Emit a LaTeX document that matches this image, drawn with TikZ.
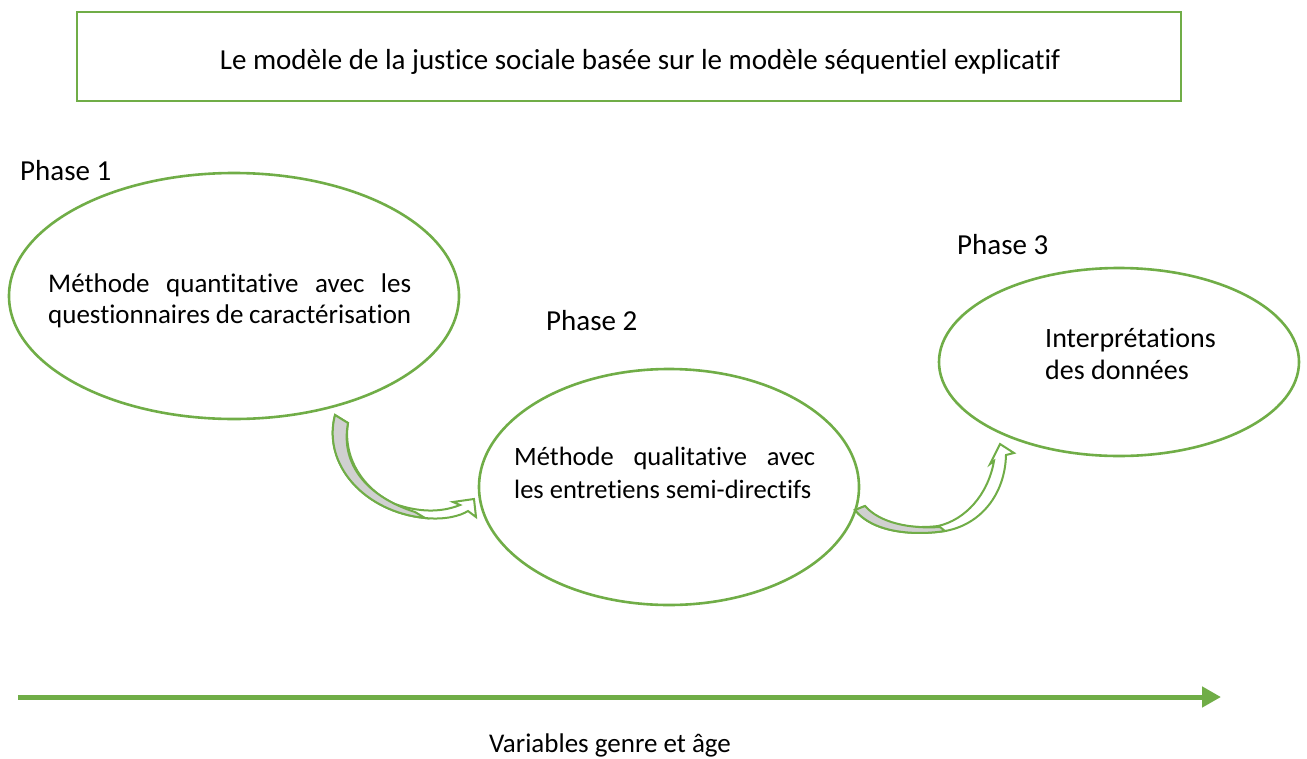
\documentclass[tikz,border=0pt]{standalone}
\usepackage{fontspec}
\setmainfont{Carlito}[Ligatures={NoCommon}]
\usetikzlibrary{shapes.geometric,arrows.meta}
\definecolor{grn}{HTML}{70AD47}
\definecolor{gry}{HTML}{D0D0D0}
\tikzset{
  phase/.style={ellipse,draw=grn,line width=2.6pt,inner sep=0pt},
  lbl/.style={anchor=base west,inner sep=0pt,font=\fontsize{29}{35}\selectfont},
  cent/.style={anchor=base,inner sep=0pt,font=\fontsize{29}{35}\selectfont},
  carrow/.style={draw=grn,line width=2pt,line join=miter},
}
\begin{document}
\begin{tikzpicture}[x=1pt,y=-1pt]
\useasboundingbox (0,0) rectangle (1307,758);
% title box
\node[draw=grn,line width=2.6pt,minimum width=1104pt,minimum height=89pt,inner sep=0pt] (titlebox) at (629,56.5) {};
\node[cent] (title) at (640,69) {Le modèle de la justice sociale basée sur le modèle séquentiel explicatif};
% phase labels
\node[lbl] (p1) at (20,180) {Phase 1};
\node[lbl] (p2) at (546,330) {Phase 2};
\node[lbl] (p3) at (957,254) {Phase 3};
% ellipses
\node[phase,minimum width=450pt,minimum height=246pt] (e1) at (234,296) {};
\node[phase,minimum width=380pt,minimum height=236pt] (e2) at (669,487) {};
\node[phase,minimum width=360pt,minimum height=188pt] (e3) at (1119,362) {};
% texts
\node[lbl,font=\fontsize{27}{33}\selectfont] (t1a) at (48,292) {\hbox to 363pt{Méthode\hfill quantitative\hfill avec\hfill les}};
\node[lbl,font=\fontsize{27}{33}\selectfont] (t1b) at (48,323) {\hbox to 363pt{questionnaires\hfill de\hfill caractérisation}};
\node[lbl,font=\fontsize{26.5}{33}\selectfont] (t2a) at (514,465) {\hbox to 301pt{Méthode\hfill qualitative\hfill avec}};
\node[lbl,font=\fontsize{26.5}{33}\selectfont] (t2b) at (514,498) {les entretiens semi-directifs};
\node[lbl,font=\fontsize{28}{33}\selectfont] (t3a) at (1045,347) {Interprétations};
\node[lbl,font=\fontsize{28}{33}\selectfont] (t3b) at (1045,379) {des données};
% curved arrow 1
\draw[carrow,fill=white] (335,415) .. controls (322,465) and (365,512) .. (425,518)
  .. controls (445,520) and (460,516) .. (468,511)
  -- (476,517) -- (474,499) -- (453,502) -- (460,505)
  .. controls (440,513) and (418,512) .. (395,504)
  .. controls (368,492) and (342,462) .. (348,423) -- cycle;
\draw[carrow,fill=gry] (335,415) -- (348,423) .. controls (340,465) and (368,497) .. (415,512)
  -- (425,518) .. controls (365,512) and (322,465) .. (335,415) -- cycle;
% curved arrow 2
\draw[carrow,fill=white] (855,510) .. controls (875,535) and (920,535) .. (945,531)
  .. controls (980,525) and (1005,495) .. (1006,455)
  -- (1014,453) -- (1000,444) -- (990,464) -- (994,461)
  .. controls (988,495) and (965,520) .. (938,526)
  .. controls (905,530) and (878,522) .. (865,506) -- cycle;
\draw[carrow,fill=gry] (855,510) -- (865,506) .. controls (880,523) and (910,529) .. (940,527)
  -- (945,531) .. controls (920,535) and (875,535) .. (855,510) -- cycle;
% bottom axis
\coordinate (axs) at (18,697);
\coordinate (axe) at (1221,697);
\draw[grn,line width=5pt,-{Triangle[length=19pt,width=20pt]}] (axs) -- (axe);
\node[cent,font=\fontsize{27}{33}\selectfont] (var) at (610,752) {Variables genre et âge};
\end{tikzpicture}
\end{document}
